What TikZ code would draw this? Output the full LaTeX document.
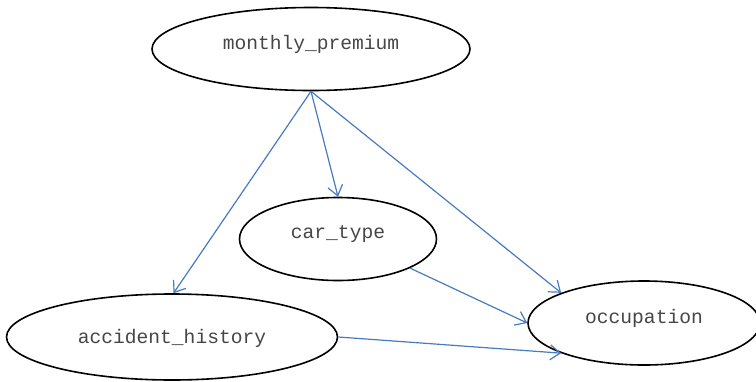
\documentclass[tikz,border=0pt]{standalone}
\usepackage{fontspec}
\setmonofont{Liberation Mono}
\usetikzlibrary{shapes.geometric, arrows.meta}
\definecolor{edgeblue}{RGB}{72,122,190}
\definecolor{labelgray}{RGB}{70,70,70}

\begin{document}
\begin{tikzpicture}[x=1pt, y=-1pt,
  var/.style={ellipse, draw, line width=1.6pt, inner sep=0pt, minimum height=83pt,
    font=\ttfamily\fontsize{19.6}{19.6}\selectfont, text=labelgray, text depth=14pt},
  dep/.style={draw=edgeblue, line width=1.2pt, -{Straight Barb[length=10pt,width=15pt]}}]
\useasboundingbox (0,0) rectangle (756,381);
\node[var, minimum width=318pt] (mp) at (311,49) {monthly\_premium};
\node[var, minimum width=197pt] (ct) at (338,239) {car\_type};
\node[var, minimum width=331pt, minimum height=86pt, text depth=2pt] (ah) at (172,337) {accident\_history};
\node[var, minimum width=232pt, minimum height=84pt] (occ) at (644,323) {occupation};
%\draw[dep] (mp) -- (occ);
\draw[dep] (mp.south) -- (ah.88);
\draw[dep] (mp.south) -- (ct.north);
\draw[dep] (mp.south) -- (occ.160);
\draw[dep] (ct.-22) -- (occ.west);
\draw[dep] (ah.east) -- (occ.200);
\end{tikzpicture}
\end{document}
